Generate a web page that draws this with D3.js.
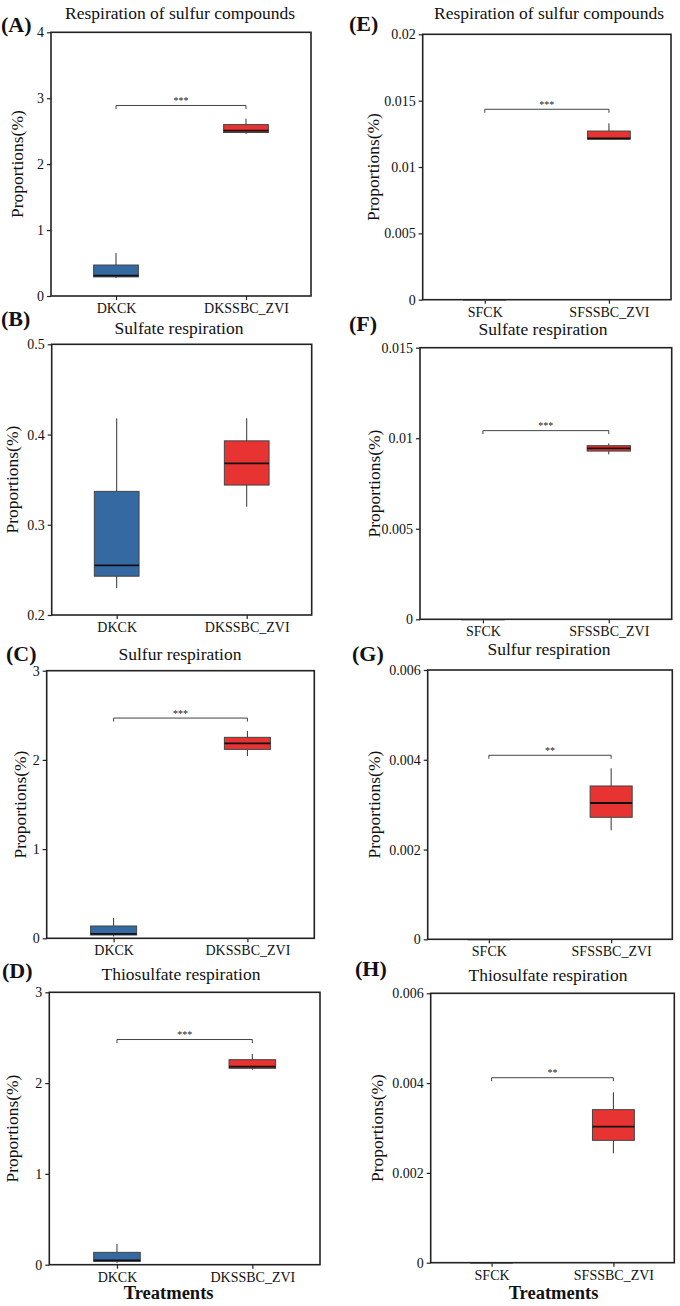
<!DOCTYPE html>
<html><head><meta charset="utf-8">
<script src="https://cdn.jsdelivr.net/npm/d3@7"></script>
<style>body{margin:0;background:#fff}svg{display:block}text{font-family:"Liberation Serif","Times New Roman",serif}</style>
</head><body>
<svg id="c" width="680" height="1306"></svg>
<script>
// ---- data ----
const panelIds = ["A","B","C","D","E","F","G","H"];
const titles = ["Respiration of sulfur compounds","Sulfate respiration","Sulfur respiration","Thiosulfate respiration",
                "Respiration of sulfur compounds","Sulfate respiration","Sulfur respiration","Thiosulfate respiration"];
const catsDK = ["DKCK","DKSSBC_ZVI"];
const catsSF = ["SFCK","SFSSBC_ZVI"];
// box stats: [min, q1, median, q3, max]
const ckStats = [
  [0.27, 0.29, 0.31, 0.47, 0.65],
  [0.230, 0.243, 0.255, 0.337, 0.418],
  [0.02, 0.037, 0.049, 0.138, 0.228],
  [0.02, 0.037, 0.048, 0.136, 0.228],
  [0, 0, 0, 0, 0],
  [0, 0, 0, 0, 0],
  [0, 0, 0, 0, 0],
  [0, 0, 0, 0, 0]
];
const zviStats = [
  [2.46, 2.48, 2.51, 2.60, 2.69],
  [0.320, 0.344, 0.368, 0.393, 0.418],
  [2.043, 2.118, 2.185, 2.253, 2.323],
  [2.148, 2.163, 2.181, 2.258, 2.321],
  [0.01209, 0.01209, 0.01215, 0.01271, 0.01329],
  [0.00911, 0.00929, 0.00944, 0.00959, 0.00972],
  [0.002428, 0.002718, 0.003037, 0.003416, 0.00381],
  [0.002436, 0.002725, 0.00303, 0.003409, 0.003795]
];
const sigLevels = [2.89, null, 2.469, 2.48, 0.01435, 0.01042, 0.0041, 0.00412];
const sigLabels = ["***", null, "***", "***", "***", "***", "**", "**"];
const yDomains = [[0,4],[0.2,0.5],[0,3],[0,3],[0,0.02],[0,0.015],[0,0.006],[0,0.006]];
const yTicks = [
  [0,1,2,3,4],[0.2,0.3,0.4,0.5],[0,1,2,3],[0,1,2,3],
  [0,0.005,0.01,0.015,0.02],[0,0.005,0.01,0.015],[0,0.002,0.004,0.006],[0,0.002,0.004,0.006]
];
const yTickLabels = [
  ["0","1","2","3","4"],["0.2","0.3","0.4","0.5"],["0","1","2","3"],["0","1","2","3"],
  ["0","0.005","0.01","0.015","0.02"],["0","0.005","0.01","0.015"],["0","0.002","0.004","0.006"],["0","0.002","0.004","0.006"]
];
const yLabel = "Proportions(%)";
const xLabel = "Treatments";

// ---- layout (positions only) ----
const layout = [
  {l:51,  t:32.3,  r:311,   b:296,    tx:180, ty:13,  lx:1,   ly:24,  yl:16.5},
  {l:51.7,t:344.3, r:311.7, b:615,    tx:179, ty:328, lx:1,   ly:318, yl:12},
  {l:46.7,t:670.7, r:314.3, b:938.3,  tx:180, ty:654, lx:6,   ly:653, yl:20},
  {l:49.3,t:992.3, r:320,   b:1264.7, tx:181, ty:974, lx:2,   ly:970, yl:12},
  {l:422.7,t:34.3, r:671,   b:299.7,  tx:549, ty:13,  lx:349, ly:23,  yl:373},
  {l:420, t:347.7, r:671.7, b:619.3,  tx:543, ty:329, lx:349, ly:323, yl:374},
  {l:427.7,t:670,  r:672.3, b:939.3,  tx:549, ty:649, lx:352, ly:653, yl:374},
  {l:430.7,t:993.3,r:674.3, b:1262.7, tx:548, ty:975, lx:355, ly:968, yl:377}
];
const fills = ["#3469a2", "#e83333"];

const svg = d3.select("#c");

panelIds.forEach((id, i) => {
  const L = layout[i];
  const cats = i < 4 ? catsDK : catsSF;
  const stats = [ckStats[i], zviStats[i]];
  const g = svg.append("g");
  const x = d3.scalePoint().domain(cats).range([L.l, L.r]).padding(0.5);
  const y = d3.scaleLinear().domain(yDomains[i]).range([L.b, L.t]);
  const bw = (L.r - L.l) * 0.172;

  // axes
  const ya = d3.axisLeft(y).tickValues(yTicks[i]).tickFormat((d, k) => yTickLabels[i][k]).tickSize(4).tickPadding(3);
  const yg = g.append("g").attr("transform", `translate(${L.l},0)`).call(ya);
  const xa = d3.axisBottom(x).tickSize(4).tickPadding(3);
  const xg = g.append("g").attr("transform", `translate(0,${L.b})`).call(xa);
  [yg, xg].forEach(a => {
    a.select(".domain").remove();
    a.selectAll("line").attr("stroke", "#222").attr("stroke-width", 1.2);
    a.selectAll("text").attr("font-size", 14).attr("fill", "#111").attr("font-family", "Liberation Serif");
  });

  // boxes
  stats.forEach((s, k) => {
    const cx = x(cats[k]);
    g.append("line").attr("x1", cx).attr("x2", cx).attr("y1", y(s[0])).attr("y2", y(s[4]))
      .attr("stroke", "#333").attr("stroke-width", 1);
    const h = Math.max(y(s[1]) - y(s[3]), 0.8);
    g.append("rect").attr("x", cx - bw / 2).attr("y", y(s[3])).attr("width", bw).attr("height", h)
      .attr("fill", fills[k]).attr("stroke", s[4] === 0 ? "#888" : "#444").attr("stroke-width", s[4] === 0 ? 0.6 : 1);
    if (s[4] !== 0) {
      g.append("line").attr("x1", cx - bw / 2).attr("x2", cx + bw / 2).attr("y1", y(s[2])).attr("y2", y(s[2]))
        .attr("stroke", "#111").attr("stroke-width", 1.8);
    }
  });

  // significance bracket
  if (sigLevels[i] !== null) {
    const sy = y(sigLevels[i]);
    const x1 = x(cats[0]), x2 = x(cats[1]);
    g.append("path").attr("d", `M${x1},${sy + 3.5}V${sy}H${x2}V${sy + 3.5}`)
      .attr("fill", "none").attr("stroke", "#444").attr("stroke-width", 1);
    g.append("text").attr("x", (x1 + x2) / 2).attr("y", sy - 1.5).attr("text-anchor", "middle")
      .attr("font-size", 10).attr("fill", "#222").text(sigLabels[i]);
  }

  // frame
  g.append("rect").attr("x", L.l).attr("y", L.t).attr("width", L.r - L.l).attr("height", L.b - L.t)
    .attr("fill", "none").attr("stroke", "#222").attr("stroke-width", 1.6);

  // title, panel label, y label
  g.append("text").attr("x", L.tx).attr("y", L.ty).attr("dy", "0.35em").attr("text-anchor", "middle")
    .attr("font-size", 17.5).attr("fill", "#111").text(titles[i]);
  g.append("text").attr("x", L.lx).attr("y", L.ly).attr("dy", "0.35em")
    .attr("font-size", 22).attr("font-weight", "bold").attr("fill", "#111").text(`(${id})`);
  g.append("text").attr("transform", `translate(${L.yl},${(L.t + L.b) / 2}) rotate(-90)`).attr("dy", "0.35em")
    .attr("text-anchor", "middle").attr("font-size", 17.5).attr("fill", "#111").text(yLabel);

  if (i === 3 || i === 7) {
    g.append("text").attr("x", (L.l + L.r) / 2 - (i === 3 ? 16 : -1)).attr("y", 1299)
      .attr("text-anchor", "middle").attr("font-size", 18.5).attr("font-weight", "bold").attr("fill", "#111").text(xLabel);
  }
});
</script>
</body></html>
